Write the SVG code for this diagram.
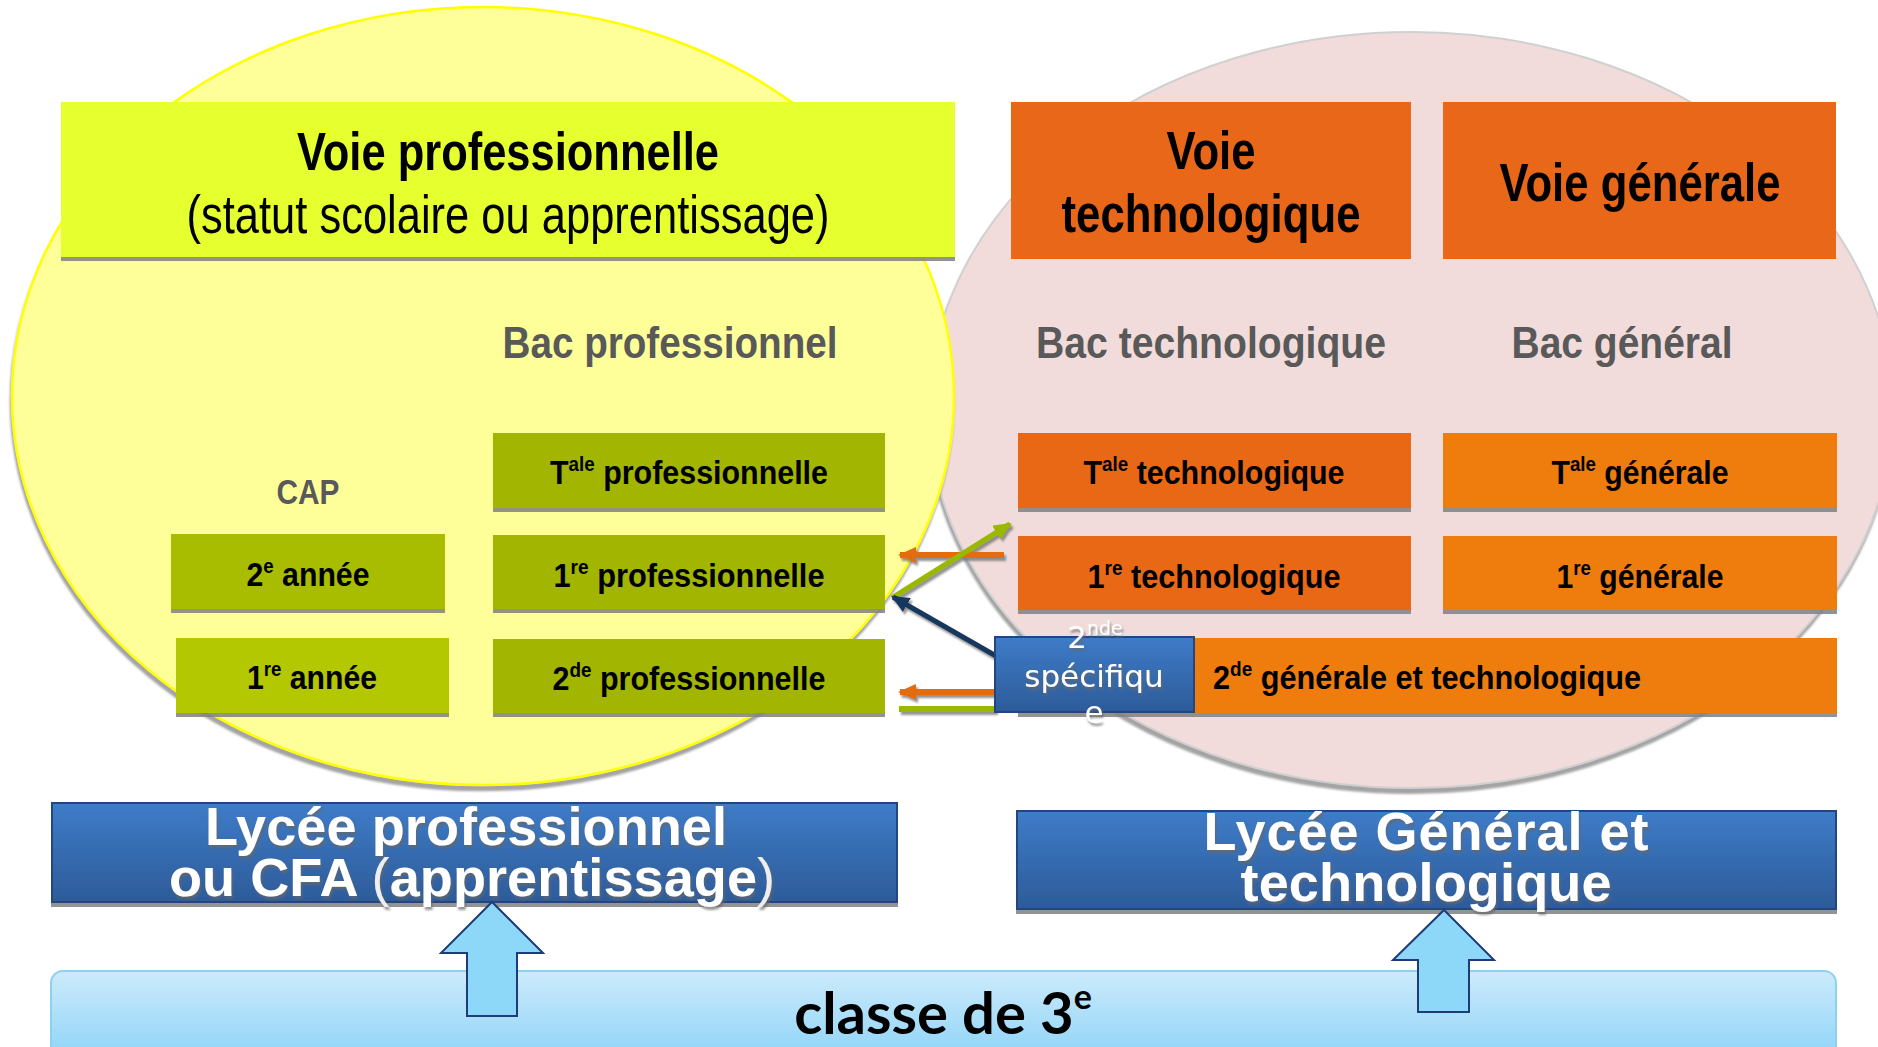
<svg xmlns="http://www.w3.org/2000/svg" width="1878" height="1047" viewBox="0 0 1878 1047">
<defs>
<style>
.n{font-family:"Liberation Sans",Arial,sans-serif}
.hd{font-size:53px;fill:#000;text-anchor:middle}
.b{font-weight:bold}
.lab{font-size:44px;fill:#595959;font-weight:bold;text-anchor:middle}
.bx{font-size:34px;font-weight:bold;fill:#000;text-anchor:middle}
.ly{font-family:"Liberation Sans",Arial,sans-serif;font-weight:bold;font-size:54px;fill:#fff;text-anchor:middle}
.sp{font-family:"DejaVu Sans",sans-serif;font-size:31px;fill:#fff;text-anchor:middle}
.cl{font-family:Lato,"Open Sans",sans-serif;font-weight:bold;font-size:58px;fill:#000;text-anchor:middle}
.grn{fill:#a2b500}
.org1{fill:#e96718}
.org2{fill:#ee7d10}
.blue{fill:url(#gb);stroke:#23467e;stroke-width:2}
.up{fill:#8dd8f8;stroke:#1f3c78;stroke-width:2}
</style>
<linearGradient id="gb" x1="0" y1="0" x2="0" y2="1">
<stop offset="0" stop-color="#3e7cc8"/>
<stop offset="1" stop-color="#2d5b99"/>
</linearGradient>
<linearGradient id="gc" x1="0" y1="0" x2="0" y2="1">
<stop offset="0" stop-color="#cdebfc"/>
<stop offset="1" stop-color="#8cd3f7"/>
</linearGradient>
<filter id="sh" x="-5%" y="-10%" width="110%" height="130%">
<feDropShadow dx="0" dy="4" stdDeviation="0.6" flood-color="#808080" flood-opacity="0.85"/>
</filter>
<filter id="esh" x="-5%" y="-5%" width="110%" height="110%">
<feDropShadow dx="-1" dy="5" stdDeviation="1" flood-color="#9a9a9a" flood-opacity="0.9"/>
</filter>
<filter id="tsh" x="-5%" y="-20%" width="110%" height="150%">
<feDropShadow dx="1.5" dy="3" stdDeviation="0.8" flood-color="#666" flood-opacity="0.7"/>
</filter>
<filter id="ash" x="-10%" y="-20%" width="120%" height="160%">
<feDropShadow dx="2" dy="3" stdDeviation="0.8" flood-color="#777" flood-opacity="0.8"/>
</filter>
<marker id="hOr" viewBox="0 0 18 16" refX="16" refY="8" markerWidth="18" markerHeight="16" markerUnits="userSpaceOnUse" orient="auto">
<path d="M0,0 L18,8 L0,16 Z" fill="#e46c0a"/>
</marker>
<marker id="hGr" viewBox="0 0 18 16" refX="16" refY="8" markerWidth="18" markerHeight="16" markerUnits="userSpaceOnUse" orient="auto">
<path d="M0,0 L18,8 L0,16 Z" fill="#9bb800"/>
</marker>
<marker id="hNv" viewBox="0 0 18 16" refX="16" refY="8" markerWidth="18" markerHeight="16" markerUnits="userSpaceOnUse" orient="auto">
<path d="M0,0 L18,8 L0,16 Z" fill="#17375e"/>
</marker>
</defs>

<rect width="1878" height="1047" fill="#fff"/>

<g id="ellipse-gt">
<ellipse cx="1411" cy="410" rx="482" ry="378" fill="#f2dcdb" stroke="#d0d0d0" stroke-width="2" filter="url(#esh)"/>
</g>
<g id="ellipse-pro">
<ellipse cx="483" cy="396" rx="471" ry="389" fill="#ffff99" stroke="#ffff00" stroke-width="2.5" filter="url(#esh)"/>
</g>

<g id="voie-pro">
<rect x="61" y="102" width="894" height="155" fill="#e6ff2e" filter="url(#sh)"/>
<text class="n hd b" x="508" y="170" textLength="422" lengthAdjust="spacingAndGlyphs">Voie professionnelle</text>
<text class="n hd" x="508" y="233" textLength="643" lengthAdjust="spacingAndGlyphs">(statut scolaire ou apprentissage)</text>
</g>
<g id="voie-techno">
<rect x="1011" y="102" width="400" height="157" class="org1"/>
<text class="n hd b" x="1211" y="169" textLength="89" lengthAdjust="spacingAndGlyphs">Voie</text>
<text class="n hd b" x="1211" y="232" textLength="299" lengthAdjust="spacingAndGlyphs">technologique</text>
</g>
<g id="voie-generale">
<rect x="1443" y="102" width="393" height="157" class="org1"/>
<text class="n hd b" x="1640" y="201" textLength="281" lengthAdjust="spacingAndGlyphs">Voie générale</text>
</g>

<g id="bac-pro"><text class="n lab" x="670" y="358" textLength="335" lengthAdjust="spacingAndGlyphs">Bac professionnel</text></g>
<g id="bac-techno"><text class="n lab" x="1211" y="358" textLength="350" lengthAdjust="spacingAndGlyphs">Bac technologique</text></g>
<g id="bac-general"><text class="n lab" x="1622" y="358" textLength="221" lengthAdjust="spacingAndGlyphs">Bac général</text></g>
<g id="cap"><text class="n lab" style="font-size:35px" x="308" y="504" textLength="63" lengthAdjust="spacingAndGlyphs">CAP</text></g>

<g id="tale-pro">
<rect x="493" y="433" width="392" height="75" class="grn" filter="url(#sh)"/>
<text class="n bx" x="689" y="484" textLength="278" lengthAdjust="spacingAndGlyphs">T<tspan font-size="21" dy="-13">ale</tspan><tspan dy="13"> professionnelle</tspan></text>
</g>
<g id="premiere-pro">
<rect x="493" y="535" width="392" height="74" class="grn" filter="url(#sh)"/>
<text class="n bx" x="689" y="587" textLength="271" lengthAdjust="spacingAndGlyphs">1<tspan font-size="21" dy="-13">re</tspan><tspan dy="13"> professionnelle</tspan></text>
</g>
<g id="seconde-pro">
<rect x="493" y="639" width="392" height="74" class="grn" filter="url(#sh)"/>
<text class="n bx" x="689" y="690" textLength="273" lengthAdjust="spacingAndGlyphs">2<tspan font-size="21" dy="-13">de</tspan><tspan dy="13"> professionnelle</tspan></text>
</g>
<g id="cap-2e">
<rect x="171" y="534" width="274" height="75" fill="#a9bd00" filter="url(#sh)"/>
<text class="n bx" x="308" y="586" textLength="123" lengthAdjust="spacingAndGlyphs">2<tspan font-size="21" dy="-13">e</tspan><tspan dy="13"> année</tspan></text>
</g>
<g id="cap-1re">
<rect x="176" y="638" width="273" height="75" fill="#b3c800" filter="url(#sh)"/>
<text class="n bx" x="312" y="689" textLength="130" lengthAdjust="spacingAndGlyphs">1<tspan font-size="21" dy="-13">re</tspan><tspan dy="13"> année</tspan></text>
</g>

<g id="tale-techno">
<rect x="1018" y="433" width="393" height="75" class="org1" filter="url(#sh)"/>
<text class="n bx" x="1214" y="484" textLength="261" lengthAdjust="spacingAndGlyphs">T<tspan font-size="21" dy="-13">ale</tspan><tspan dy="13"> technologique</tspan></text>
</g>
<g id="tale-generale">
<rect x="1443" y="433" width="394" height="75" class="org2" filter="url(#sh)"/>
<text class="n bx" x="1640" y="484" textLength="177" lengthAdjust="spacingAndGlyphs">T<tspan font-size="21" dy="-13">ale</tspan><tspan dy="13"> générale</tspan></text>
</g>
<g id="premiere-techno">
<rect x="1018" y="536" width="393" height="74" class="org1" filter="url(#sh)"/>
<text class="n bx" x="1214" y="588" textLength="253" lengthAdjust="spacingAndGlyphs">1<tspan font-size="21" dy="-13">re</tspan><tspan dy="13"> technologique</tspan></text>
</g>
<g id="premiere-generale">
<rect x="1443" y="536" width="394" height="74" class="org2" filter="url(#sh)"/>
<text class="n bx" x="1640" y="588" textLength="167" lengthAdjust="spacingAndGlyphs">1<tspan font-size="21" dy="-13">re</tspan><tspan dy="13"> générale</tspan></text>
</g>
<g id="seconde-gt">
<rect x="1018" y="638" width="819" height="75" class="org2" filter="url(#sh)"/>
<text class="n bx" style="text-anchor:start" x="1213" y="689" textLength="428" lengthAdjust="spacingAndGlyphs">2<tspan font-size="21" dy="-13">de</tspan><tspan dy="13"> générale et technologique</tspan></text>
</g>

<g id="connectors" filter="url(#ash)">
<line x1="1004" y1="555" x2="900" y2="555" stroke="#e46c0a" stroke-width="6" marker-end="url(#hOr)"/>
<line x1="892" y1="598" x2="1010" y2="524" stroke="#9bb800" stroke-width="5.5" marker-end="url(#hGr)"/>
<line x1="996" y1="656" x2="893" y2="597" stroke="#17375e" stroke-width="5" marker-end="url(#hNv)"/>
<line x1="996" y1="692" x2="900" y2="692" stroke="#e46c0a" stroke-width="6" marker-end="url(#hOr)"/>
<line x1="899" y1="709" x2="996" y2="709" stroke="#9bb800" stroke-width="6"/>
</g>

<g id="seconde-specifique">
<rect x="995" y="637" width="199" height="75" class="blue"/>
<g filter="url(#tsh)">
<text class="sp" x="1095" y="648">2<tspan font-size="19" dy="-13">nde</tspan></text>
<text class="sp" x="1094" y="687">spécifiqu</text>
<text class="sp" x="1094" y="723">e</text>
</g>
</g>

<g id="lycee-pro">
<rect x="52" y="803" width="845" height="99" class="blue" filter="url(#sh)"/>
<g filter="url(#tsh)">
<text class="ly" x="466" y="845" textLength="522">Lycée professionnel</text>
<text class="ly" x="472" y="896" textLength="606">ou CFA <tspan font-weight="normal" fill="#eee">(</tspan>apprentissage<tspan font-weight="normal" fill="#eee">)</tspan></text>
</g>
</g>
<g id="lycee-gt">
<rect x="1017" y="811" width="819" height="98" class="blue" filter="url(#sh)"/>
<g filter="url(#tsh)">
<text class="ly" x="1426" y="850" textLength="445">Lycée Général et</text>
<text class="ly" x="1426" y="901" textLength="371">technologique</text>
</g>
</g>

<g id="classe-3e">
<rect x="51" y="971" width="1785" height="90" rx="12" fill="url(#gc)" stroke="#8ed0f0" stroke-width="2" filter="url(#sh)"/>
<text class="cl" x="943" y="1034">classe de 3<tspan font-size="34" dy="-25">e</tspan></text>
</g>

<g id="up-arrows">
<polygon class="up" points="492,902 543,953 517,953 517,1016 467,1016 467,953 441,953"/>
<polygon class="up" points="1444,910 1494,960 1469,960 1469,1012 1418,1012 1418,960 1393,960"/>
</g>
</svg>
